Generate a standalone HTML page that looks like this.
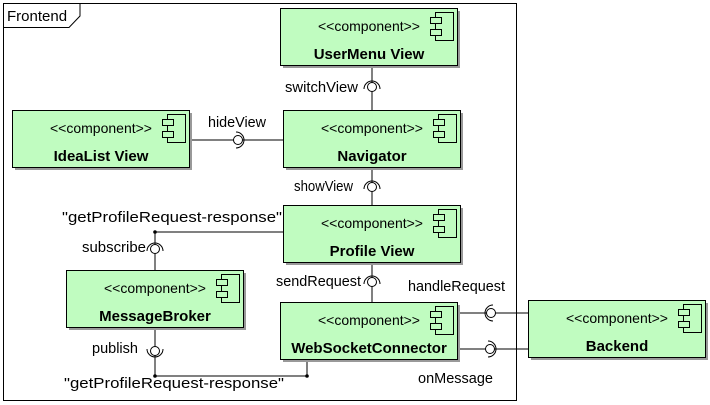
<!DOCTYPE html>
<html><head><meta charset="utf-8"><style>
html,body{margin:0;padding:0;background:#fff}
svg{display:block}
text{font-family:"Liberation Sans",Arial,sans-serif;font-size:15px;fill:#000}
.s{font-size:14px}
.b{font-weight:bold;font-size:15px}
</style></head><body>
<svg width="710" height="405" viewBox="0 0 710 405" xmlns="http://www.w3.org/2000/svg">
<rect x="3.5" y="3.5" width="513" height="397" fill="#fff" stroke="#000"/>
<path d="M3.5 27.5 H69 L80 16 V3.5" fill="none" stroke="#000"/>
<text x="7" y="21">Frontend</text>

<g stroke="#000" fill="none">
<line x1="372" y1="65" x2="372" y2="110"/>
<line x1="189" y1="140" x2="283" y2="140"/>
<line x1="372" y1="167" x2="372" y2="205"/>
<line x1="155" y1="232" x2="283" y2="232"/>
<line x1="155" y1="232" x2="155" y2="270"/>
<line x1="372" y1="262" x2="372" y2="302"/>
<line x1="457" y1="313" x2="528" y2="313"/>
<line x1="457" y1="349" x2="528" y2="349"/>
<line x1="155" y1="327" x2="155" y2="376"/>
<line x1="155" y1="376" x2="307" y2="376"/>
<line x1="307" y1="376" x2="307" y2="358"/>
</g>
<circle cx="155" cy="232" r="1.8"/>
<circle cx="155" cy="376" r="1.8"/>
<circle cx="307" cy="376" r="1.8"/>

<g stroke="#000" fill="#fff">
<circle cx="372" cy="87" r="4.5"/><path d="M364 89 A8 8 0 1 1 380 89" fill="none"/>
<circle cx="238" cy="140" r="4.5"/><path d="M236 132 A8 8 0 1 1 236 148" fill="none"/>
<circle cx="372" cy="187" r="4.5"/><path d="M364 189 A8 8 0 1 1 380 189" fill="none"/>
<circle cx="155" cy="249" r="4.5"/><path d="M147 251 A8 8 0 1 1 163 251" fill="none"/>
<circle cx="372" cy="282" r="4.5"/><path d="M364 284 A8 8 0 1 1 380 284" fill="none"/>
<circle cx="491" cy="313" r="4.5"/><path d="M493 305 A8 8 0 1 0 493 321" fill="none"/>
<circle cx="490" cy="349" r="4.5"/><path d="M488 341 A8 8 0 1 1 488 357" fill="none"/>
<circle cx="155" cy="351" r="4.5"/><path d="M147 349 A8 8 0 1 0 163 349" fill="none"/>
</g>

<text x="285" y="92" textLength="73" lengthAdjust="spacingAndGlyphs">switchView</text>
<text x="208" y="127" textLength="58" lengthAdjust="spacingAndGlyphs">hideView</text>
<text x="294" y="191" textLength="59" lengthAdjust="spacingAndGlyphs">showView</text>
<text x="62" y="222" textLength="220" lengthAdjust="spacingAndGlyphs">"getProfileRequest-response"</text>
<text x="82" y="252" textLength="64" lengthAdjust="spacingAndGlyphs">subscribe</text>
<text x="276" y="286" textLength="85" lengthAdjust="spacingAndGlyphs">sendRequest</text>
<text x="408" y="291" textLength="97" lengthAdjust="spacingAndGlyphs">handleRequest</text>
<text x="92" y="353" textLength="46" lengthAdjust="spacingAndGlyphs">publish</text>
<text x="418" y="383" textLength="75" lengthAdjust="spacingAndGlyphs">onMessage</text>
<text x="64" y="388" textLength="220" lengthAdjust="spacingAndGlyphs">"getProfileRequest-response"</text>

<defs>
<g id="box">
<rect x="3" y="3" width="177" height="57" fill="#999"/><rect x="0.5" y="0.5" width="177" height="57" fill="#c0fcc0" stroke="#000"/>
<rect x="155.5" y="4.5" width="18" height="28" fill="none" stroke="#000"/><rect x="150.5" y="9.5" width="11" height="6" fill="#c0fcc0" stroke="#000"/><rect x="150.5" y="21.5" width="11" height="6" fill="#c0fcc0" stroke="#000"/>
<text class="s" x="38" y="23">&lt;&lt;component&gt;&gt;</text>
</g>
</defs>
<g transform="translate(280,8)"><use href="#box"/><text class="b" x="89" y="51" text-anchor="middle">UserMenu View</text></g>
<g transform="translate(12,110)"><use href="#box"/><text class="b" x="89" y="51" text-anchor="middle">IdeaList View</text></g>
<g transform="translate(283,110)"><use href="#box"/><text class="b" x="89" y="51" text-anchor="middle">Navigator</text></g>
<g transform="translate(283,205)"><use href="#box"/><text class="b" x="89" y="51" text-anchor="middle">Profile View</text></g>
<g transform="translate(66,270)"><use href="#box"/><text class="b" x="89" y="51" text-anchor="middle">MessageBroker</text></g>
<g transform="translate(280,302)"><use href="#box"/><text class="b" x="89" y="51" text-anchor="middle">WebSocketConnector</text></g>
<g transform="translate(528,300)"><use href="#box"/><text class="b" x="89" y="51" text-anchor="middle">Backend</text></g>
</svg>
</body></html>
